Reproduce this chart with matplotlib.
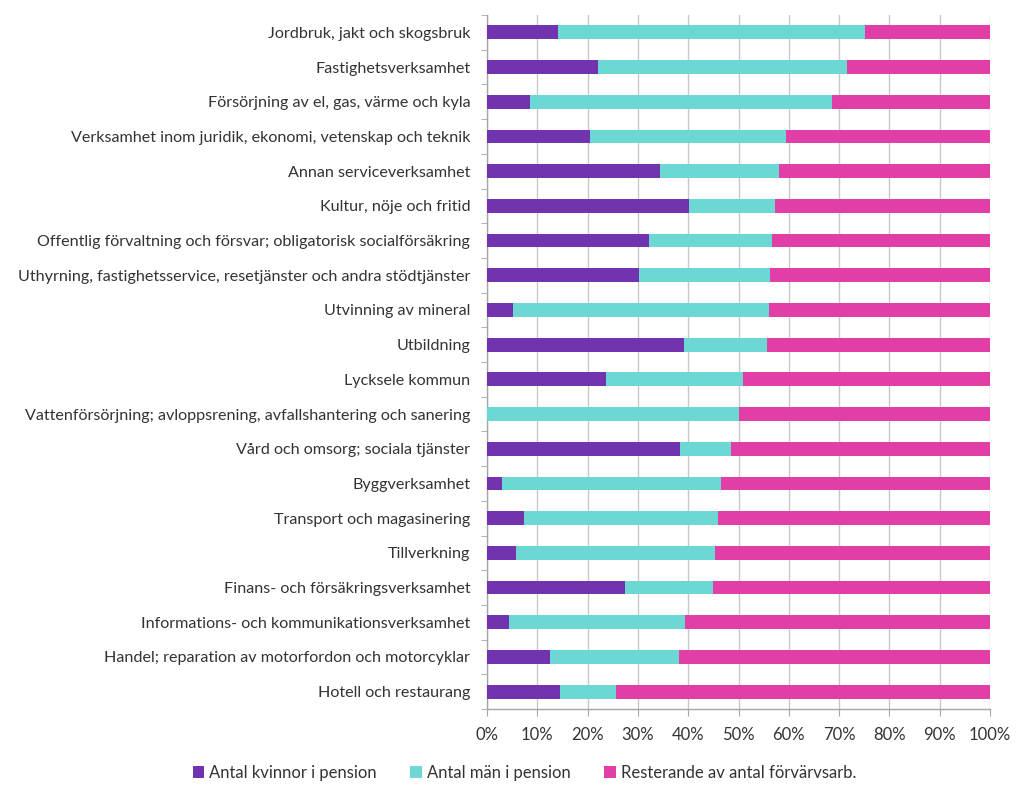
import matplotlib
matplotlib.use("Agg")
import matplotlib.pyplot as plt
from matplotlib.ticker import FixedLocator, PercentFormatter
import numpy as np

categories = [
    "Jordbruk, jakt och skogsbruk",
    "Fastighetsverksamhet",
    "Försörjning av el, gas, värme och kyla",
    "Verksamhet inom juridik, ekonomi, vetenskap och teknik",
    "Annan serviceverksamhet",
    "Kultur, nöje och fritid",
    "Offentlig förvaltning och försvar; obligatorisk socialförsäkring",
    "Uthyrning, fastighetsservice, resetjänster och andra stödtjänster",
    "Utvinning av mineral",
    "Utbildning",
    "Lycksele kommun",
    "Vattenförsörjning; avloppsrening, avfallshantering och sanering",
    "Vård och omsorg; sociala tjänster",
    "Byggverksamhet",
    "Transport och magasinering",
    "Tillverkning",
    "Finans- och försäkringsverksamhet",
    "Informations- och kommunikationsverksamhet",
    "Handel; reparation av motorfordon och motorcyklar",
    "Hotell och restaurang",
]

kvinnor = [14.1, 22.1, 8.5, 20.5, 34.4, 40.2, 32.3, 30.3, 5.2, 39.2,
           23.7, 0.0, 38.3, 2.9, 7.4, 5.8, 27.4, 4.4, 12.5, 14.6]
man = [61.1, 49.4, 60.1, 39.0, 23.7, 17.0, 24.3, 25.9, 50.9, 16.5,
       27.2, 50.1, 10.2, 43.7, 38.6, 39.6, 17.6, 34.9, 25.6, 11.1]
resterande = [100 - k - m for k, m in zip(kvinnor, man)]

series_names = ["Antal kvinnor i pension", "Antal män i pension",
                "Resterande av antal förvärvsarb."]
colors = ["#7133ae", "#6dd7d4", "#e13fa7"]

plt.rcParams['font.family'] = ['Lato', 'DejaVu Sans']

fig = plt.figure(figsize=(10.24, 7.91), dpi=100)
ax = fig.add_axes([487/1024, 1 - 709/791, (990 - 487)/1024, (709 - 15)/791])

y = np.arange(len(categories))
left = np.zeros(len(categories))
for vals, name, c in zip([kvinnor, man, resterande], series_names, colors):
    ax.barh(y, vals, left=left, height=0.4, color=c, label=name, zorder=3)
    left = left + np.array(vals)

ax.set_xlim(0, 100)
ax.set_ylim(len(categories) - 0.5, -0.5)
ax.set_xticks(np.arange(0, 101, 10))
ax.xaxis.set_major_formatter(PercentFormatter(decimals=0))
ax.set_yticks(y)
ax.set_yticklabels(categories)
ax.yaxis.set_minor_locator(FixedLocator(np.arange(-0.5, len(categories), 1)))
ax.tick_params(axis='y', which='major', length=0, pad=12, labelsize=11.6, colors='#333333')
ax.tick_params(axis='y', which='minor', length=4, color='#a6a6a6')
ax.tick_params(axis='x', which='major', length=5, color='#a6a6a6', labelsize=12,
               labelcolor='#333333', pad=8)

ax.grid(axis='x', color='#c8c8c8', linewidth=1.0, zorder=0)
for s in ['top', 'right']:
    ax.spines[s].set_visible(False)
for s in ['left', 'bottom']:
    ax.spines[s].set_color('#a6a6a6')
    ax.spines[s].set_linewidth(1.0)

leg = fig.legend(loc='center', bbox_to_anchor=(0.512, 1 - 773/791), ncol=3,
                 frameon=False, fontsize=12, handlelength=0.7, handleheight=0.7,
                 handletextpad=0.3, columnspacing=2.0)
for t in leg.get_texts():
    t.set_color('#333333')

fig.savefig("out.png", dpi=100)
